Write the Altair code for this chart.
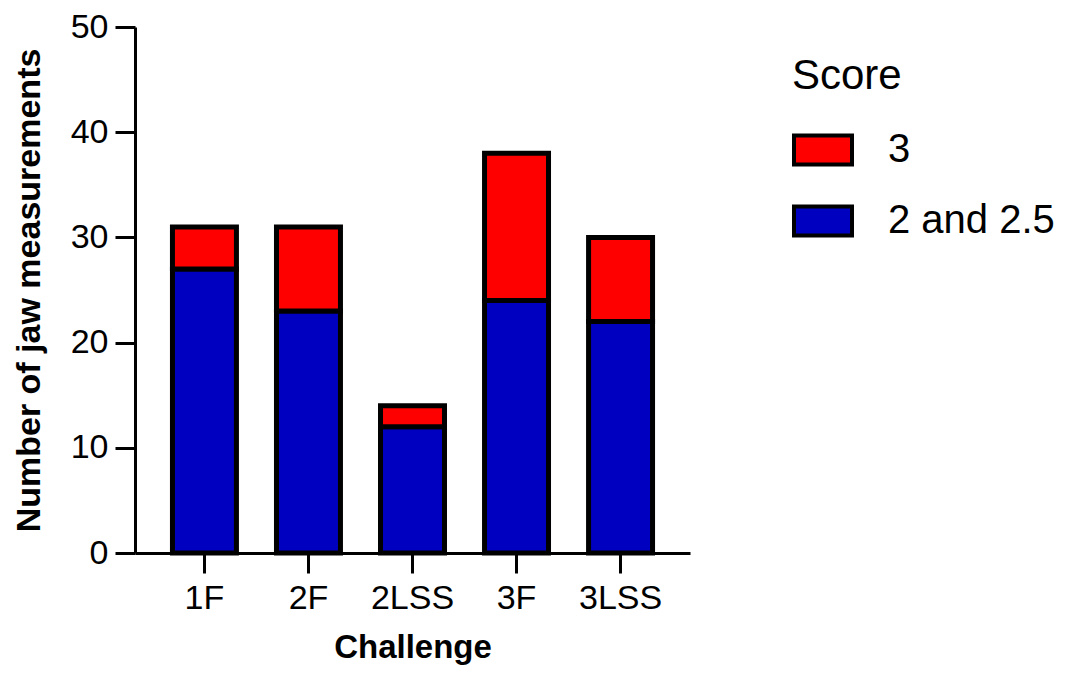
import altair as alt
import pandas as pd

challenges = ["1F", "2F", "2LSS", "3F", "3LSS"]
score_2_25 = [27, 23, 12, 24, 22]
score_3 = [4, 8, 2, 14, 8]
scores = ["3", "2 and 2.5"]
colors = ["#ff0000", "#0000c0"]
y_ticks = [0, 10, 20, 30, 40, 50]

rows = []
for c, b, r in zip(challenges, score_2_25, score_3):
    rows.append({"Challenge": c, "Score": "2 and 2.5", "Count": b, "ord": 0})
    rows.append({"Challenge": c, "Score": "3", "Count": r, "ord": 1})
df = pd.DataFrame(rows)

FONT = "Liberation Sans"

chart = alt.Chart(df).mark_bar(stroke="black", strokeWidth=5).encode(
    x=alt.X(
        "Challenge:N",
        sort=challenges,
        title="Challenge",
        scale=alt.Scale(paddingInner=0.385, paddingOuter=0.36),
        axis=alt.Axis(labelAngle=0, labelPadding=8, titlePadding=16, titleFontSize=33),
    ),
    y=alt.Y(
        "Count:Q",
        stack="zero",
        title="Number of jaw measurements",
        scale=alt.Scale(domain=[0, 50], nice=False),
        axis=alt.Axis(values=y_ticks, labelPadding=7, titlePadding=24, titleFontSize=34),
    ),
    color=alt.Color(
        "Score:N",
        scale=alt.Scale(domain=scores, range=colors),
        legend=alt.Legend(
            title="Score",
            orient="none",
            legendX=657,
            legendY=29,
            symbolType="M-1,-0.5H1V0.5H-1Z",
            symbolSize=3364,
            symbolStrokeColor="black",
            symbolStrokeWidth=4,
            symbolOpacity=1,
            labelFont=FONT,
            labelFontSize=40,
            labelColor="black",
            labelOffset=34,
            labelLimit=0,
            titleFont=FONT,
            titleFontSize=42,
            titleFontWeight="normal",
            titleColor="black",
            titlePadding=21,
            rowPadding=17,
        ),
    ),
    order=alt.Order("ord:Q"),
).properties(
    width=555,
    height=526,
    autosize=alt.AutoSizeParams(type="none"),
    padding={"left": 127, "top": 19, "right": 382, "bottom": 115},
).configure_view(
    stroke=None
).configure_axis(
    grid=False,
    domainColor="black",
    domainWidth=3,
    tickColor="black",
    tickWidth=3,
    tickSize=20,
    labelFont=FONT,
    labelFontSize=34,
    labelColor="black",
    titleFont=FONT,
    titleFontWeight="bold",
    titleColor="black",
)

chart.save("out.html", embed_options={"renderer": "svg", "actions": False})
